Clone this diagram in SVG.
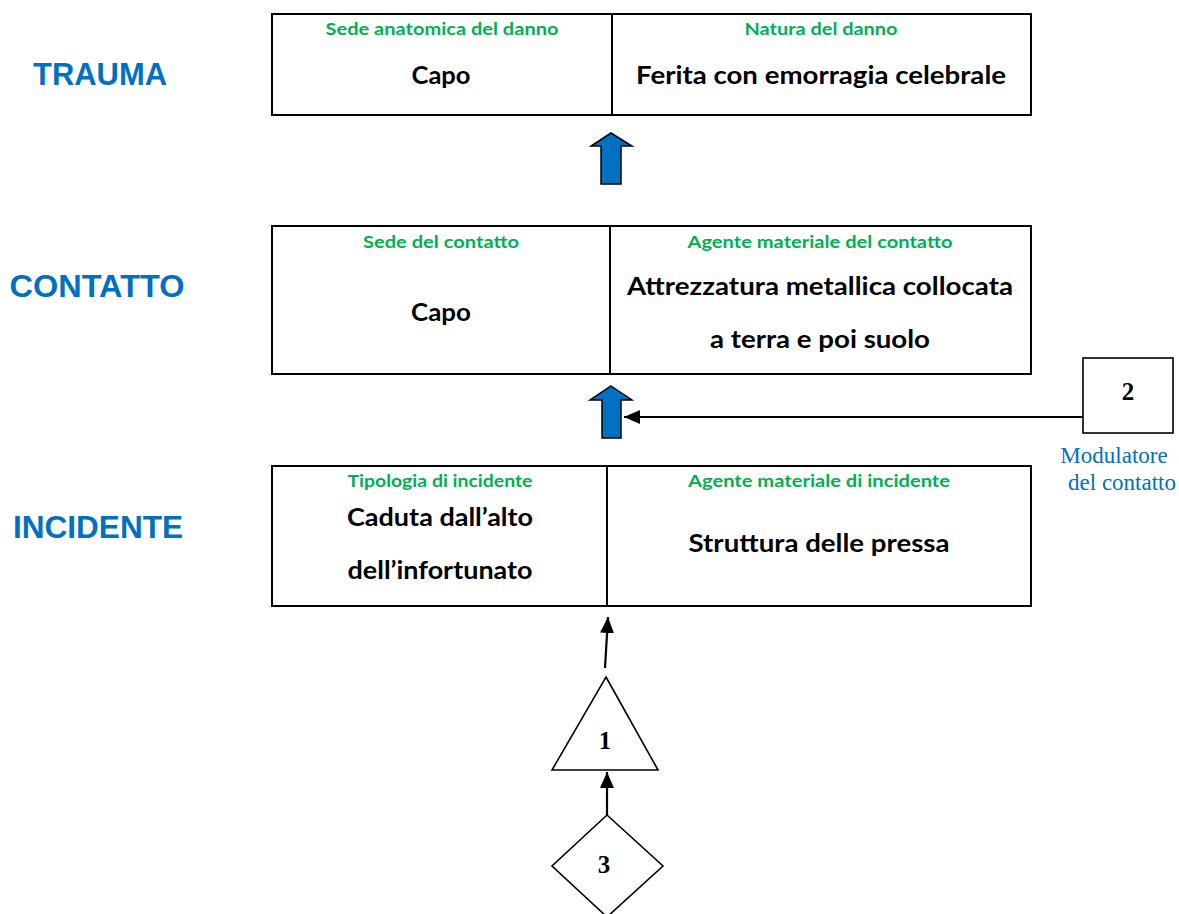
<svg xmlns="http://www.w3.org/2000/svg" width="1179" height="914" viewBox="0 0 1179 914">
<style>
.box{fill:#fff;stroke:#000;stroke-width:2}
.div{stroke:#000;stroke-width:2}
.lvl{font-family:"Liberation Sans",Arial,sans-serif;font-weight:bold;font-size:30.5px;fill:#0070C0;text-anchor:middle}
.hd{font-family:Lato,"Open Sans",sans-serif;font-weight:bold;font-size:17px;fill:#00B050;text-anchor:middle}
.tx{font-family:Lato,"Open Sans",sans-serif;font-weight:bold;font-size:24px;fill:#000;text-anchor:middle}
.num{font-family:"Liberation Serif","Times New Roman",serif;font-weight:bold;font-size:25px;fill:#000;text-anchor:middle}
.mod{font-family:"Liberation Serif","Times New Roman",serif;font-size:23px;fill:#0070C0;text-anchor:middle}
.blk{fill:#0070C0;stroke:#000;stroke-width:1.5;stroke-linejoin:miter}
.con{stroke:#000;stroke-width:2.2;fill:none}
.shape{fill:#fff;stroke:#000;stroke-width:1.6}
</style>
<defs>
<marker id="ah" viewBox="0 0 16 14" refX="16" refY="7" markerWidth="16" markerHeight="14" markerUnits="userSpaceOnUse" orient="auto">
<path d="M0,0 L16,7 L0,14 z" fill="#000"/>
</marker>
</defs>

<g id="level-labels">
<text class="lvl" x="100" y="85" textLength="134" lengthAdjust="spacingAndGlyphs">TRAUMA</text>
<text class="lvl" x="97" y="297" textLength="175" lengthAdjust="spacingAndGlyphs">CONTATTO</text>
<text class="lvl" x="98" y="538" textLength="170" lengthAdjust="spacingAndGlyphs">INCIDENTE</text>
</g>

<g id="trauma">
<rect class="box" x="272" y="14" width="759" height="101"/>
<line class="div" x1="612" y1="14" x2="612" y2="115"/>
<text class="hd" x="442" y="35" textLength="233" lengthAdjust="spacingAndGlyphs">Sede anatomica del danno</text>
<text class="hd" x="821" y="35" textLength="153" lengthAdjust="spacingAndGlyphs">Natura del danno</text>
<text class="tx" x="441" y="84" textLength="59" lengthAdjust="spacingAndGlyphs">Capo</text>
<text class="tx" x="821" y="84" textLength="370" lengthAdjust="spacingAndGlyphs">Ferita con emorragia celebrale</text>
</g>

<g id="contatto">
<rect class="box" x="272" y="226" width="759" height="148"/>
<line class="div" x1="610" y1="226" x2="610" y2="374"/>
<text class="hd" x="441" y="248" textLength="156" lengthAdjust="spacingAndGlyphs">Sede del contatto</text>
<text class="hd" x="820" y="248" textLength="265" lengthAdjust="spacingAndGlyphs">Agente materiale del contatto</text>
<text class="tx" x="441" y="321" textLength="60" lengthAdjust="spacingAndGlyphs">Capo</text>
<text class="tx" x="820" y="295" textLength="386" lengthAdjust="spacingAndGlyphs">Attrezzatura metallica collocata</text>
<text class="tx" x="820" y="348" textLength="220" lengthAdjust="spacingAndGlyphs">a terra e poi suolo</text>
</g>

<g id="incidente">
<rect class="box" x="272" y="466" width="759" height="140"/>
<line class="div" x1="607" y1="466" x2="607" y2="606"/>
<text class="hd" x="440" y="487" textLength="185" lengthAdjust="spacingAndGlyphs">Tipologia di incidente</text>
<text class="hd" x="819" y="487" textLength="262" lengthAdjust="spacingAndGlyphs">Agente materiale di incidente</text>
<text class="tx" x="440" y="526" textLength="186" lengthAdjust="spacingAndGlyphs">Caduta dall’alto</text>
<text class="tx" x="440" y="579" textLength="185" lengthAdjust="spacingAndGlyphs">dell’infortunato</text>
<text class="tx" x="819" y="552" textLength="261" lengthAdjust="spacingAndGlyphs">Struttura delle pressa</text>
</g>

<g id="modulatore-2">
<rect class="shape" x="1083" y="358" width="90" height="75"/>
<text class="num" x="1128" y="400">2</text>
<text class="mod" x="1114" y="463">Modulatore</text>
<text class="mod" x="1122" y="490">del contatto</text>
</g>

<g id="node-1">
<polygon class="shape" points="606,677 658,770 552,770"/>
<text class="num" x="605" y="749">1</text>
</g>

<g id="node-3">
<polygon class="shape" points="607,815 663,866 607,917 552,866"/>
<text class="num" x="604" y="873">3</text>
</g>

<g id="connectors">
<polygon class="blk" points="611,133 632,146 621,146 621,184 601,184 601,146 591,146"/>
<polygon class="blk" points="611,386 632,400 621,400 621,438 602,438 602,400 590,400"/>
<line class="con" x1="1083" y1="417" x2="624" y2="417" marker-end="url(#ah)"/>
<line class="con" x1="605" y1="668" x2="608" y2="617" marker-end="url(#ah)"/>
<line class="con" x1="607" y1="815" x2="607" y2="772" marker-end="url(#ah)"/>
</g>
</svg>
